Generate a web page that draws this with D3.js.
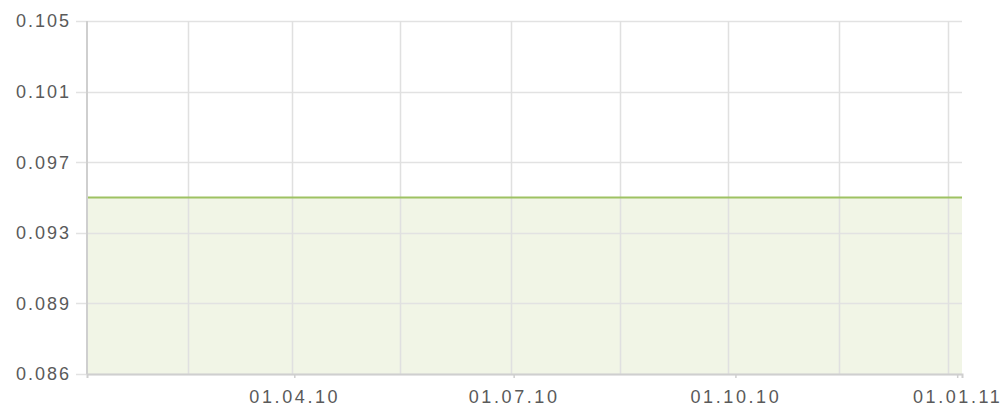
<!DOCTYPE html>
<html>
<head>
<meta charset="utf-8">
<script src="https://cdn.jsdelivr.net/npm/d3@7"></script>
<style>
  body { margin: 0; background: #fff; }
  svg text { font-family: "Liberation Sans", Arial, sans-serif; font-size: 18px; fill: #5a5a5a; letter-spacing: 2px; }
  .x-axis text { letter-spacing: 2.6px; }
</style>
</head>
<body>
<div id="chart"></div>
<script>
// series: flat rate over 2010
var dates = ["2010-01-05", "2010-02-01", "2010-03-01", "2010-04-01", "2010-05-01", "2010-06-01",
  "2010-07-01", "2010-08-01", "2010-09-01", "2010-10-01", "2010-11-01", "2010-12-01", "2011-01-03"];
var values = [0.0955, 0.0955, 0.0955, 0.0955, 0.0955, 0.0955,
  0.0955, 0.0955, 0.0955, 0.0955, 0.0955, 0.0955, 0.0955];

// axis ticks
var yTickValues = [0.086, 0.0898, 0.0936, 0.0974, 0.1012, 0.105];
var yTickLabels = ["0.086", "0.089", "0.093", "0.097", "0.101", "0.105"];
var xTickDates = ["2010-04-01", "2010-07-01", "2010-10-01", "2011-01-01"];
var xTickLabels = ["01.04.10", "01.07.10", "01.10.10", "01.01.11"];
var xGridDates = ["2010-02-16", "2010-03-31", "2010-05-15", "2010-06-30",
  "2010-08-14", "2010-09-28", "2010-11-13", "2010-12-28"];

var parse = d3.timeParse("%Y-%m-%d");
var data = dates.map(function(d, i) { return { date: parse(d), value: values[i] }; });

var margin = { top: 21, right: 45, bottom: 35, left: 87 };
var width = 1007 - margin.left - margin.right;
var height = 409 - margin.top - margin.bottom;

var svg = d3.select("#chart")
  .append("svg")
  .attr("width", 1007)
  .attr("height", 409)
  .append("g")
  .attr("transform", "translate(" + margin.left + "," + margin.top + ")");

var x = d3.scaleTime()
  .domain([parse("2010-01-05"), parse("2011-01-03")])
  .range([0, width]);
var y = d3.scaleLinear()
  .domain([0.086, 0.105])
  .range([height, 0]);

// area fill
svg.append("path")
  .datum(data)
  .attr("fill", "#f1f5e6")
  .attr("d", d3.area()
    .x(function(d) { return x(d.date); })
    .y0(height)
    .y1(function(d) { return y(d.value); }));

// horizontal grid + labels
svg.selectAll(".hgrid")
  .data(yTickValues)
  .enter()
  .append("line")
  .attr("x1", -11)
  .attr("x2", width)
  .attr("y1", function(d) { return Math.round(y(d)) + 0.5; })
  .attr("y2", function(d) { return Math.round(y(d)) + 0.5; })
  .attr("stroke", "#e2e2e2")
  .attr("stroke-width", 1.5);

svg.selectAll(".ylab")
  .data(yTickValues)
  .enter()
  .append("text")
  .attr("x", -16)
  .attr("y", function(d) { return y(d); })
  .attr("dy", "0.35em")
  .attr("text-anchor", "end")
  .text(function(d, i) { return yTickLabels[i]; });

// vertical grid
svg.selectAll(".vgrid")
  .data(xGridDates)
  .enter()
  .append("line")
  .attr("x1", function(d) { return Math.round(x(parse(d))) + 0.5; })
  .attr("x2", function(d) { return Math.round(x(parse(d))) + 0.5; })
  .attr("y1", 0)
  .attr("y2", height)
  .attr("stroke", "#e0e0e0")
  .attr("stroke-width", 1.5);

// line
svg.append("path")
  .datum(data)
  .attr("fill", "none")
  .attr("stroke", "#9ec262")
  .attr("stroke-width", 2)
  .attr("d", d3.line()
    .x(function(d) { return x(d.date); })
    .y(function(d) { return y(d.value); }));

// axes
svg.append("line")
  .attr("x1", 0).attr("x2", 0)
  .attr("y1", 0).attr("y2", height)
  .attr("stroke", "#cfcfcf")
  .attr("stroke-width", 2);

var xAxis = svg.append("g")
  .attr("class", "x-axis")
  .attr("transform", "translate(0," + height + ")")
  .call(d3.axisBottom(x)
    .tickValues(xTickDates.map(parse))
    .tickSize(4)
    .tickPadding(12)
    .tickFormat(function(d, i) { return xTickLabels[i]; }));
xAxis.select(".domain").attr("stroke", "#cfcfcf").attr("stroke-width", 2);
xAxis.selectAll(".tick line").attr("stroke", "#cfcfcf").attr("stroke-width", 1.5);
xAxis.selectAll("text").attr("font-family", null).attr("font-size", null).attr("fill", "#5a5a5a");
</script>
</body>
</html>
